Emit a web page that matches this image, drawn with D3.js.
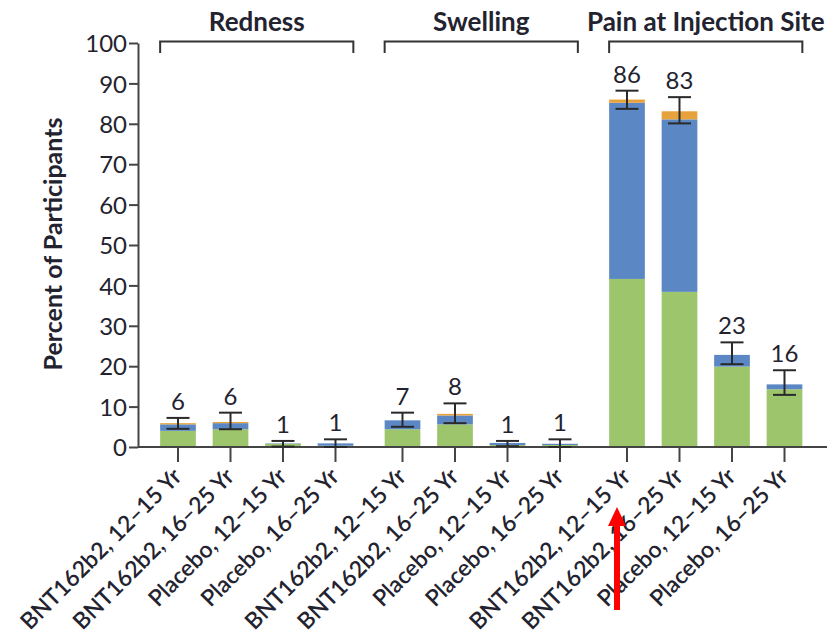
<!DOCTYPE html>
<html>
<head>
<meta charset="utf-8">
<script src="https://cdn.jsdelivr.net/npm/d3@7"></script>
<style>
  body { margin: 0; background: #fff; }
  svg text { font-family: Lato, "Open Sans", sans-serif; fill: #23232f; }
</style>
</head>
<body>
<figure id="bar" style="margin:0"></figure>
<script>
// reaction groups and cohorts
const groups = ["Redness", "Swelling", "Pain at Injection Site"];
const cohorts = ["BNT162b2, 12–15 Yr", "BNT162b2, 16–25 Yr", "Placebo, 12–15 Yr", "Placebo, 16–25 Yr"];

// stacked values (percent), ordered group by group
const mild     = [4.0, 4.4, 0.8, 0.3,   4.4, 5.6, 0.5, 0.5,   41.6, 38.4, 19.9, 14.3];
const moderate = [1.6, 1.5, 0.1, 0.6,   2.2, 2.2, 0.5, 0.3,   43.6, 42.7, 2.9, 1.2];
const severe   = [0.3, 0.3, 0.0, 0.0,   0.0, 0.4, 0.0, 0.0,   0.8, 2.0, 0.0, 0.0];
const totals   = [6, 6, 1, 1,   7, 8, 1, 1,   86, 83, 23, 16];
const ciLow    = [4.5, 4.4, 0.1, 0.0,   5.0, 5.9, 0.2, 0.0,   83.7, 80.1, 20.5, 12.9];
const ciHigh   = [7.2, 8.5, 1.5, 1.9,   8.5, 10.8, 1.5, 1.9,   88.2, 86.6, 25.9, 19.0];
const yTicks   = [0, 10, 20, 30, 40, 50, 60, 70, 80, 90, 100];

const colors = { mild: "#9dc56b", moderate: "#5b87c4", severe: "#e8a23c" };

const width = 835, height = 640;
const axisX = 138;

const svg = d3.select("figure#bar")
  .append("svg")
  .attr("width", width)
  .attr("height", height);

const y = d3.scaleLinear().domain([0, 100]).range([447, 43]);

// outer band per group, inner band per cohort
const x0 = d3.scaleBand()
  .domain(groups)
  .range([151.75, 810.75])
  .paddingInner(0.0646)
  .paddingOuter(0);

const x1 = d3.scaleBand()
  .domain(cohorts)
  .range([0, x0.bandwidth()])
  .paddingInner(0.32)
  .paddingOuter(0.16);

const rows = [];
groups.forEach((g, gi) => {
  cohorts.forEach((c, ci) => {
    const i = gi * 4 + ci;
    rows.push({
      group: g, cohort: c,
      mild: mild[i], moderate: moderate[i], severe: severe[i],
      total: totals[i], lo: ciLow[i], hi: ciHigh[i]
    });
  });
});

const cx = d => x0(d.group) + x1(d.cohort) + x1.bandwidth() / 2;

const stack = d3.stack().keys(["mild", "moderate", "severe"]);
const series = stack(rows);

// Y axis
const yAxis = svg.append("g")
  .attr("transform", "translate(" + axisX + ",0)")
  .call(d3.axisLeft(y).tickValues(yTicks).tickSize(9).tickPadding(2).tickSizeOuter(0));
yAxis.select(".domain").attr("stroke", "#444").attr("stroke-width", 2);
yAxis.selectAll(".tick line").attr("stroke", "#444").attr("stroke-width", 2);
yAxis.selectAll(".tick text")
  .attr("font-size", 24)
  .attr("fill", "#23232f")
  .attr("dy", "0.36em")
  .style("font-family", "Lato, sans-serif");

// y title
svg.append("text")
  .attr("transform", "translate(62,244) rotate(-90)")
  .attr("text-anchor", "middle")
  .attr("font-size", 25)
  .attr("font-weight", "bold")
  .text("Percent of Participants");

// bars
svg.append("g")
  .selectAll("g")
  .data(series)
  .join("g")
  .attr("fill", s => colors[s.key])
  .selectAll("rect")
  .data(s => s)
  .join("rect")
  .attr("x", d => x0(d.data.group) + x1(d.data.cohort))
  .attr("y", d => y(d[1]))
  .attr("width", x1.bandwidth())
  .attr("height", d => Math.max(0, y(d[0]) - y(d[1])));

// x axis line and ticks
svg.append("line")
  .attr("x1", axisX).attr("x2", 827)
  .attr("y1", y(0)).attr("y2", y(0))
  .attr("stroke", "#444").attr("stroke-width", 2);

svg.append("g")
  .selectAll("line")
  .data(rows)
  .join("line")
  .attr("x1", cx).attr("x2", cx)
  .attr("y1", y(0)).attr("y2", y(0) + 15)
  .attr("stroke", "#444").attr("stroke-width", 2);

// error bars
const err = svg.append("g").attr("stroke", "#2a2a2a").attr("stroke-width", 2);
err.selectAll(".v").data(rows).join("line")
  .attr("x1", cx).attr("x2", cx)
  .attr("y1", d => y(d.hi)).attr("y2", d => y(d.lo));
err.selectAll(".t").data(rows).join("line")
  .attr("x1", d => cx(d) - 11.5).attr("x2", d => cx(d) + 11.5)
  .attr("y1", d => y(d.hi)).attr("y2", d => y(d.hi));
err.selectAll(".b").data(rows).join("line")
  .attr("x1", d => cx(d) - 11.5).attr("x2", d => cx(d) + 11.5)
  .attr("y1", d => y(d.lo)).attr("y2", d => y(d.lo));

// value labels
svg.append("g")
  .selectAll("text")
  .data(rows)
  .join("text")
  .attr("x", cx)
  .attr("y", d => y(d.hi) - 8)
  .attr("text-anchor", "middle")
  .attr("font-size", 24)
  .text(d => d.total);

// rotated cohort labels
svg.append("g")
  .selectAll("text")
  .data(rows)
  .join("text")
  .attr("transform", d => "translate(" + (cx(d) + 5) + ",478) rotate(-45)")
  .attr("text-anchor", "end")
  .attr("font-size", 23)
  .attr("font-weight", 600)
  .text(d => d.cohort);

// group brackets and titles
const br = svg.append("g");
groups.forEach(g => {
  const left = x0(g) + x1(cohorts[0]);
  const right = x0(g) + x1(cohorts[3]) + x1.bandwidth();
  br.append("path")
    .attr("d", "M" + left + ",53V41.5H" + right + "V53")
    .attr("fill", "none")
    .attr("stroke", "#333")
    .attr("stroke-width", 2);
  br.append("text")
    .attr("x", (left + right) / 2)
    .attr("y", 31)
    .attr("text-anchor", "middle")
    .attr("font-size", 26)
    .attr("font-weight", "bold")
    .text(g);
});

// red arrow annotation
const arrowX = cx(rows[8]) - 10;
svg.append("line")
  .attr("x1", arrowX).attr("x2", arrowX)
  .attr("y1", 610).attr("y2", 522)
  .attr("stroke", "#ff0000").attr("stroke-width", 6);
svg.append("path")
  .attr("d", "M" + (arrowX - 9) + ",526L" + arrowX + ",507L" + (arrowX + 9) + ",526Z")
  .attr("fill", "#ff0000");
</script>
</body>
</html>
